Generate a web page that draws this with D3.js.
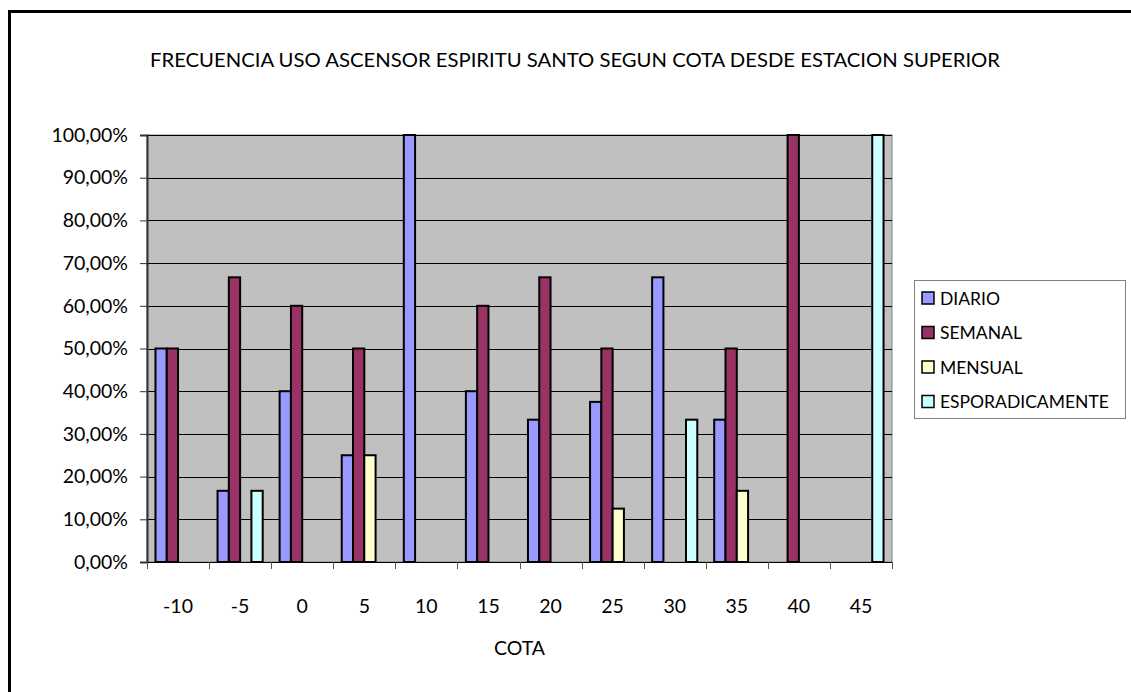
<!DOCTYPE html>
<html lang="es">
<head>
  <meta charset="UTF-8" />
  <title>Frecuencia uso ascensor Espiritu Santo</title>
  <script src="https://cdn.jsdelivr.net/npm/d3@7"></script>
  <style>
    body { margin: 0; background: #fff; }
    svg { display: block; font-family: Lato, "Open Sans", sans-serif; }
  </style>
</head>
<body>
  <div id="chart"></div>
  <script>
    // Data
    const cotas = ["-10", "-5", "0", "5", "10", "15", "20", "25", "30", "35", "40", "45"];
    const seriesNames = ["DIARIO", "SEMANAL", "MENSUAL", "ESPORADICAMENTE"];
    const diario = [50, 16.67, 40, 25, 100, 40, 33.33, 37.5, 66.67, 33.33, 0, 0];
    const semanal = [50, 66.67, 60, 50, 0, 60, 66.67, 50, 0, 50, 100, 0];
    const mensual = [0, 0, 0, 25, 0, 0, 0, 12.5, 0, 16.67, 0, 0];
    const esporadico = [0, 16.67, 0, 0, 0, 0, 0, 0, 33.33, 0, 0, 100];
    const yTicks = [0, 10, 20, 30, 40, 50, 60, 70, 80, 90, 100];
    const colors = ["#9999FF", "#993366", "#FFFFCC", "#CCFFFF"];

    const seriesValues = [diario, semanal, mensual, esporadico];

    const W = 1131, H = 692;
    const plot = {left: 147, right: 892, top: 135, bottom: 562};
    const fs = 19.5;

    const svg = d3.select("#chart").append("svg")
      .attr("width", W).attr("height", H);

    // outer chart border
    svg.append("rect")
      .attr("x", 9.5).attr("y", 11.5)
      .attr("width", W + 10).attr("height", H + 10)
      .attr("fill", "#fff").attr("stroke", "#000").attr("stroke-width", 3);

    svg.append("text")
      .attr("x", 575).attr("y", 67)
      .attr("text-anchor", "middle")
      .attr("font-size", 19)
      .attr("textLength", 850).attr("lengthAdjust", "spacingAndGlyphs")
      .text("FRECUENCIA USO ASCENSOR ESPIRITU SANTO SEGUN COTA DESDE ESTACION SUPERIOR");

    const x0 = d3.scaleBand().domain(cotas)
      .range([plot.left, plot.right]).paddingInner(0).paddingOuter(0);
    // Excel-like gap width 150%
    const x1 = d3.scaleBand().domain(seriesNames)
      .range([0, x0.bandwidth()]).paddingInner(0).paddingOuter(0.75);
    const y = d3.scaleLinear().domain([0, 100]).range([plot.bottom, plot.top]);

    svg.append("rect")
      .attr("x", plot.left).attr("y", plot.top)
      .attr("width", plot.right - plot.left).attr("height", plot.bottom - plot.top)
      .attr("fill", "#C0C0C0").attr("stroke", "#808080").attr("stroke-width", 1);

    // gridlines
    svg.append("g").selectAll("line")
      .data(yTicks.slice(1))
      .join("line")
        .attr("x1", plot.left).attr("x2", plot.right)
        .attr("y1", d => Math.round(y(d)) + 0.5).attr("y2", d => Math.round(y(d)) + 0.5)
        .attr("stroke", "#000").attr("stroke-width", 1);

    // bars
    const groups = svg.append("g").selectAll("g")
      .data(cotas)
      .join("g")
        .attr("transform", d => `translate(${x0(d)},0)`);

    groups.selectAll("rect")
      .data((c, i) => seriesNames.map((s, k) => ({s, k, v: seriesValues[k][i]})).filter(d => d.v > 0))
      .join("rect")
        .attr("x", d => x1(d.s))
        .attr("y", d => y(d.v))
        .attr("width", x1.bandwidth())
        .attr("height", d => y(0) - y(d.v))
        .attr("fill", d => colors[d.k])
        .attr("stroke", "#000").attr("stroke-width", 2);

    // y axis
    const yAxis = svg.append("g")
      .attr("transform", `translate(${plot.left},0)`)
      .call(d3.axisLeft(y).tickValues(yTicks).tickSize(7).tickPadding(12)
        .tickFormat(d => d3.format(".2f")(d).replace(".", ",") + "%"));
    yAxis.select(".domain").attr("stroke", "#333").attr("stroke-width", 2);
    yAxis.selectAll(".tick line").attr("stroke", "#333");
    yAxis.selectAll("text").attr("font-size", fs).attr("fill", "#000")
      .attr("font-family", "Lato, 'Open Sans', sans-serif");

    // x axis: ticks at category boundaries
    const xg = svg.append("g");
    xg.append("line")
      .attr("x1", plot.left).attr("x2", plot.right)
      .attr("y1", plot.bottom + 0.5).attr("y2", plot.bottom + 0.5)
      .attr("stroke", "#000").attr("stroke-width", 1);
    xg.selectAll("line.tk")
      .data(cotas.map(c => x0(c)).concat([plot.right]))
      .join("line").attr("class", "tk")
        .attr("x1", d => Math.round(d) + 0.5).attr("x2", d => Math.round(d) + 0.5)
        .attr("y1", plot.bottom).attr("y2", plot.bottom + 7)
        .attr("stroke", "#555");
    xg.selectAll("text")
      .data(cotas)
      .join("text")
        .attr("x", d => x0(d) + x0.bandwidth() / 2)
        .attr("y", 613)
        .attr("text-anchor", "middle")
        .attr("font-size", fs)
        .text(d => d);

    svg.append("text")
      .attr("x", (plot.left + plot.right) / 2).attr("y", 655)
      .attr("text-anchor", "middle").attr("font-size", fs)
      .text("COTA");

    // legend
    const lg = svg.append("g").attr("transform", "translate(914,280)");
    lg.append("rect")
      .attr("x", 0.5).attr("y", 0.5).attr("width", 211).attr("height", 138)
      .attr("fill", "#fff").attr("stroke", "#808080");
    const items = lg.selectAll("g.item")
      .data(seriesNames)
      .join("g").attr("class", "item")
        .attr("transform", (d, i) => `translate(0,${18 + i * 34.5})`);
    items.append("rect")
      .attr("x", 8).attr("y", -6).attr("width", 12).attr("height", 12)
      .attr("fill", (d, i) => colors[i]).attr("stroke", "#000").attr("stroke-width", 1.5);
    items.append("text")
      .attr("x", 26).attr("y", 6.5)
      .attr("font-size", 17.5)
      .text(d => d);
  </script>
</body>
</html>
